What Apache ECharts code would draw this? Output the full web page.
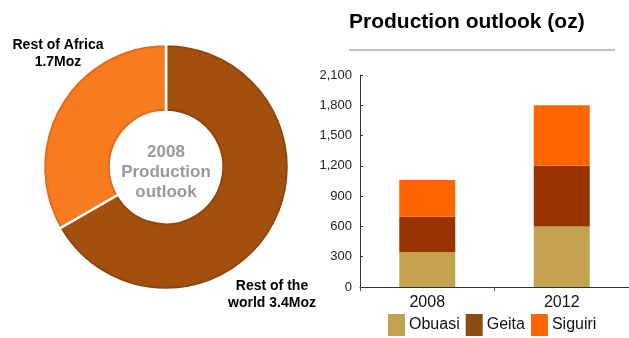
<!DOCTYPE html>
<html>
<head>
<meta charset="utf-8">
<script src="https://cdn.jsdelivr.net/npm/echarts@6/dist/echarts.min.js"></script>
<style>
  html, body { margin: 0; padding: 0; background: #fff; }
  #chart { width: 629px; height: 338px; }
</style>
</head>
<body>
<div id="chart"></div>
<script>
// Donut: 2008 production split (Moz)
const pieNames = ['Rest of the world', 'Rest of Africa'];
const pieValues = [3.4, 1.7];
const pieLabels = ['Rest of the\nworld 3.4Moz', 'Rest of Africa\n1.7Moz'];

// Stacked bars: production outlook by mine (oz)
const years = ['2008', '2012'];
const obuasi = [345, 600];
const geita = [350, 600];
const siguiri = [365, 600];
const yTicks = [0, 300, 600, 900, 1200, 1500, 1800, 2100];

const FONT = "'Liberation Sans', Arial, sans-serif";
const chart = echarts.init(document.getElementById('chart'), null, { renderer: 'canvas' });

const CX = 166, CY = 167, R_IN = 55, R_OUT = 123;

// Bevelled ring fill: darker rims at the inner and outer edges
function ringFill(base, rim) {
  const a = R_IN / R_OUT;
  return {
    type: 'radial', x: CX, y: CY, r: R_OUT, global: true,
    colorStops: [
      { offset: a, color: rim },
      { offset: a + 0.035, color: base },
      { offset: 0.965, color: base },
      { offset: 1, color: rim }
    ]
  };
}
const pieFills = [ringFill('#A3500F', '#7A3A08'), ringFill('#F97B1F', '#C85A10')];
const labelPos = [[272, 295], [58, 54]];

chart.setOption({
  animation: false,
  textStyle: { fontFamily: FONT },
  title: {
    text: 'Production outlook (oz)',
    left: 349, top: 12, padding: 0,
    textStyle: { fontSize: 21, fontWeight: 'bold', color: '#000', fontFamily: FONT }
  },
  graphic: [
    { type: 'line', shape: { x1: 349, y1: 50, x2: 615, y2: 50 },
      style: { stroke: '#aaaaaa', lineWidth: 1.5 } },
    { type: 'text', x: CX, y: 172,
      style: { text: '2008\nProduction\noutlook', align: 'center', verticalAlign: 'middle',
        font: "bold 17px 'Liberation Sans', Arial, sans-serif", fill: '#999999', lineHeight: 20 } }
  ],
  legend: {
    left: 388, top: 314, padding: 0,
    itemWidth: 17, itemHeight: 22, itemGap: 6,
    icon: 'rect',
    textStyle: { fontSize: 16, color: '#111', fontFamily: FONT, padding: [2, 0, 0, -1] },
    data: [
      { name: 'Obuasi', itemStyle: { color: '#C4A24F' } },
      { name: 'Geita', itemStyle: { color: '#8B4B13' } },
      { name: 'Siguiri', itemStyle: { color: '#FF6600' } }
    ]
  },
  grid: { left: 360, right: -5, top: 75, bottom: 51 },
  xAxis: {
    type: 'category', data: years,
    axisLine: { lineStyle: { color: '#333', width: 1 } },
    axisTick: { show: true, length: 4, inside: false, lineStyle: { color: '#555' } },
    axisLabel: { fontSize: 16, color: '#111', margin: 8, fontFamily: FONT }
  },
  yAxis: {
    type: 'value', min: 0, max: 2100, interval: 300,
    axisLine: { show: true, lineStyle: { color: '#333' } },
    axisTick: { show: true, inside: true, length: 3, lineStyle: { color: '#333' } },
    splitLine: { show: false },
    axisLabel: {
      fontSize: 13, color: '#222', margin: 8, fontFamily: FONT,
      formatter: v => yTicks.includes(v) ? v.toLocaleString('en-US') : ''
    }
  },
  series: [
    {
      type: 'pie', center: [CX, CY], radius: [R_IN, R_OUT],
      startAngle: 90, clockwise: true,
      itemStyle: { borderColor: '#fff', borderWidth: 2.5 },
      label: {
        show: true, position: 'inside', fontSize: 14, fontWeight: 'bold', color: '#000',
        lineHeight: 17, align: 'center', fontFamily: FONT,
        formatter: p => pieLabels[p.dataIndex]
      },
      labelLine: { show: false },
      labelLayout: p => ({ x: labelPos[p.dataIndex][0], y: labelPos[p.dataIndex][1], align: 'center', verticalAlign: 'middle' }),
      emphasis: { disabled: true },
      data: pieNames.map((n, i) => ({ name: n, value: pieValues[i], itemStyle: { color: pieFills[i] } }))
    },
    { name: 'Obuasi', type: 'bar', stack: 'p', barWidth: 56, data: obuasi, itemStyle: { color: '#C4A24F' } },
    { name: 'Geita', type: 'bar', stack: 'p', barWidth: 56, data: geita, itemStyle: { color: '#993300' } },
    { name: 'Siguiri', type: 'bar', stack: 'p', barWidth: 56, data: siguiri, itemStyle: { color: '#FF6600' } }
  ]
});
</script>
</body>
</html>
